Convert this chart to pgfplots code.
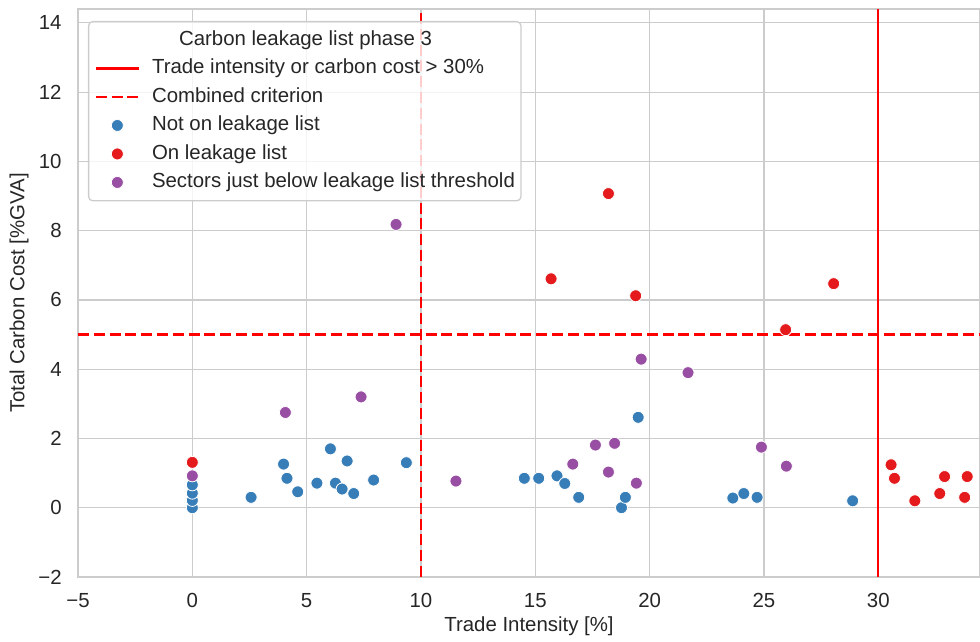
\documentclass[border=0pt]{standalone}
\usepackage{fontspec}
\setmainfont{Liberation Sans}
\usepackage{pgfplots}
\pgfplotsset{compat=1.18}
\definecolor{cblue}{HTML}{377EB8}
\definecolor{cred}{HTML}{E41A1C}
\definecolor{cpurple}{HTML}{984EA3}
\definecolor{gridgray}{HTML}{CCCCCC}
\definecolor{txt}{HTML}{262626}
\newcommand{\fs}{\fontsize{10.2}{12.2}\selectfont}
\begin{document}
\fs
\begin{tikzpicture}
\begin{axis}[
  name=ax,
  scale only axis, width=451pt, height=284pt,
  xmin=-5, xmax=34.45, ymin=-2, ymax=14.4,
  xtick={-5,0,5,10,15,20,25,30}, xticklabels={−5,0,5,10,15,20,25,30},
  ytick={-2,0,2,4,6,8,10,12,14}, yticklabels={−2,0,2,4,6,8,10,12,14},
  major tick length=0pt,
  grid=major, major grid style={gridgray, line width=0.6pt},
  axis line style={gridgray, line width=0.65pt},
  tick label style={font=\fs, text=txt},
  xticklabel style={anchor=north, inner sep=0pt, yshift=-8pt},
  yticklabel style={anchor=east, inner sep=0pt, xshift=-8pt},
  xlabel={Trade Intensity [\%]}, ylabel={Total Carbon Cost [\%GVA]},
  label style={font=\fs, text=txt},
  xlabel style={at={(axis description cs:0.5,-0.0863)}, anchor=center},
  ylabel style={at={(axis description cs:-0.0654,0.5)}, anchor=center},
  legend cell align=left,
  legend style={at={(axis description cs:0,1)}, anchor=north west, xshift=5pt, yshift=-6pt,
    draw=gridgray, line width=0.65pt, rounded corners=2pt, fill=white, fill opacity=0.8,
    draw opacity=1, text opacity=1, inner xsep=3pt, inner ysep=4.3pt,
    row sep=4.55pt, column sep=6pt,
    nodes={inner sep=0pt, text height=7.5pt, text depth=2.2pt, text=txt, font=\fs}},
  lineleg/.style={legend image code/.code={\draw[##1, opacity=1] (0pt,0pt) -- (21.5pt,0pt);}},
  dotleg/.style={legend image code/.code={\draw[##1, only marks, opacity=1] plot coordinates {(10.75pt,0pt)};}},
  dots/.style={only marks, mark=*, mark size=3.0pt, mark options={draw=white, line width=0.4pt, fill=#1}, dotleg},
]
\addlegendimage{empty legend}
\addlegendentry{\hspace*{13.5pt}Carbon leakage list phase 3}

\addplot[red, line width=1.2pt, lineleg] coordinates {(30,-2) (30,14.4)};
\addlegendentry{Trade intensity or carbon cost > 30\%}
\addplot[red, line width=1.2pt, dash pattern=on 5.5pt off 2.4pt, lineleg] coordinates {(10,-2) (10,14.4)};
\addlegendentry{Combined criterion}
\addplot[red, line width=1.2pt, dash pattern=on 5.5pt off 2.4pt, forget plot] coordinates {(-5,5) (34.45,5)};

\addplot[dots=cblue] coordinates {
(0,0.00) (0,0.21) (0,0.42) (0,0.66)
(2.57,0.30) (3.99,1.26) (4.14,0.85) (4.61,0.46) (5.45,0.71) (6.04,1.70)
(6.26,0.71) (6.55,0.54) (6.77,1.35) (7.06,0.41) (7.93,0.80) (9.36,1.30)
(14.52,0.85) (15.15,0.85) (15.95,0.92) (16.29,0.70) (16.90,0.30)
(18.77,0.00) (18.94,0.30) (19.50,2.61)
(23.64,0.28) (24.12,0.41) (24.70,0.30) (28.88,0.20)
};
\addlegendentry{Not on leakage list}
\addplot[dots=cred] coordinates {
(0,1.31) (15.69,6.61) (18.20,9.07) (19.39,6.12) (25.95,5.14) (28.05,6.47)
(30.56,1.24) (30.71,0.85) (31.60,0.20) (32.69,0.41) (32.90,0.90) (33.78,0.30) (33.89,0.90)
};
\addlegendentry{On leakage list}
\addplot[dots=cpurple] coordinates {
(0,0.92) (4.07,2.75) (7.38,3.20) (8.91,8.18) (11.53,0.77) (16.64,1.26)
(17.63,1.81) (18.20,1.03) (18.47,1.86) (19.42,0.71) (19.63,4.29) (21.68,3.90)
(24.89,1.75) (25.98,1.20)
};
\addlegendentry{Sectors just below leakage list threshold}
\end{axis}
\pgfresetboundingbox
\path[use as bounding box] ([xshift=-39pt,yshift=-32.5pt]ax.south west) rectangle ([yshift=4.5pt]ax.north east);
\end{tikzpicture}
\end{document}
